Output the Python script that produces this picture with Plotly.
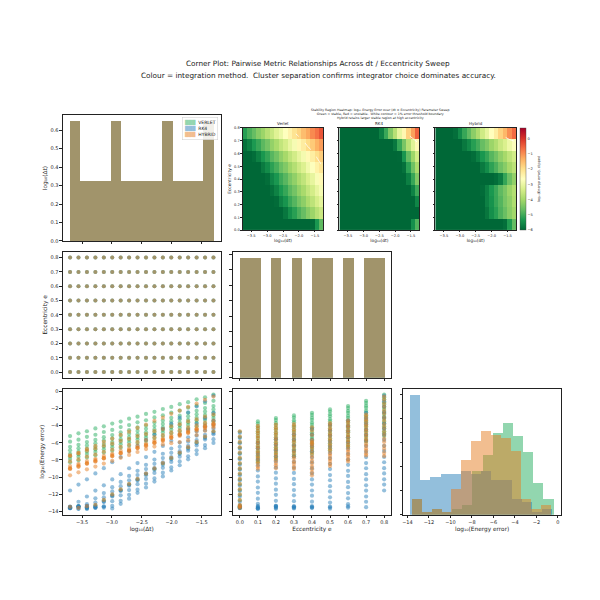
import numpy as np
import plotly.graph_objects as go

# ---------------- data ----------------
log_dt = [-3.700, -3.559, -3.418, -3.276, -3.135, -2.994, -2.853, -2.712, -2.571,
          -2.429, -2.288, -2.147, -2.006, -1.865, -1.724, -1.582, -1.441, -1.300]
ecc = [0.0, 0.1, 0.2, 0.3, 0.4, 0.5, 0.6, 0.7, 0.8]

# log10(energy error); rows = eccentricity, columns = log10(dt)
err_verlet = [
    [-13.52, -13.41, -13.58, -13.30, -12.71, -12.08, -11.49, -10.86, -10.27, -9.64, -9.05, -8.43, -7.82, -7.21, -6.58, -5.96, -5.34, -4.72],
    [-8.28, -8.05, -7.71, -7.47, -7.15, -6.92, -6.58, -6.35, -6.02, -5.79, -5.46, -5.21, -4.89, -4.65, -4.33, -4.08, -3.76, -3.52],
    [-7.88, -7.64, -7.31, -7.07, -6.75, -6.51, -6.18, -5.94, -5.62, -5.38, -5.05, -4.81, -4.49, -4.25, -3.92, -3.68, -3.36, -3.12],
    [-7.58, -7.34, -7.01, -6.77, -6.45, -6.21, -5.88, -5.64, -5.32, -5.08, -4.75, -4.51, -4.19, -3.95, -3.62, -3.38, -3.06, -2.82],
    [-7.28, -7.04, -6.71, -6.47, -6.15, -5.91, -5.58, -5.34, -5.02, -4.78, -4.45, -4.21, -3.89, -3.65, -3.32, -3.08, -2.76, -2.52],
    [-6.88, -6.64, -6.31, -6.07, -5.75, -5.51, -5.18, -4.94, -4.62, -4.38, -4.05, -3.81, -3.49, -3.25, -2.92, -2.68, -2.36, -2.12],
    [-6.48, -6.24, -5.91, -5.67, -5.35, -5.11, -4.78, -4.54, -4.22, -3.98, -3.65, -3.41, -3.09, -2.85, -2.52, -2.28, -1.96, -1.72],
    [-5.88, -5.64, -5.31, -5.07, -4.75, -4.51, -4.18, -3.94, -3.62, -3.38, -3.05, -2.81, -2.49, -2.25, -1.92, -1.68, -1.36, -1.12],
    [-5.22, -4.90, -4.66, -4.33, -4.09, -3.77, -3.53, -3.20, -2.96, -2.64, -2.40, -2.07, -1.83, -1.51, -1.27, -0.94, -0.70, -0.38],
]
err_rk4 = [
    [-13.63, -13.48, -13.36, -13.55, -12.88, -12.25, -11.62, -11.01, -10.40, -9.78, -9.14, -8.55, -7.93, -7.30, -6.69, -6.07, -5.45, -4.85],
    [-13.62, -13.45, -13.71, -13.38, -13.55, -13.66, -13.12, -12.51, -11.83, -11.21, -10.52, -9.92, -9.23, -8.62, -7.93, -7.32, -6.63, -6.02],
    [-13.48, -13.70, -13.34, -13.59, -13.44, -13.36, -12.76, -12.07, -11.47, -10.77, -10.16, -9.48, -8.87, -8.18, -7.57, -6.88, -6.27, -5.58],
    [-13.57, -13.42, -13.65, -13.50, -13.41, -12.81, -12.12, -11.51, -10.83, -10.21, -9.52, -8.92, -8.23, -7.62, -6.93, -6.32, -5.63, -5.02],
    [-13.61, -13.39, -13.53, -13.47, -12.86, -12.17, -11.56, -10.87, -10.27, -9.57, -8.96, -8.28, -7.67, -6.98, -6.37, -5.68, -5.07, -4.38],
    [-13.44, -13.68, -13.52, -12.97, -12.36, -11.67, -11.06, -10.37, -9.77, -9.07, -8.46, -7.78, -7.17, -6.48, -5.87, -5.18, -4.57, -3.92],
    [-13.55, -13.40, -13.16, -12.47, -11.86, -11.17, -10.56, -9.87, -9.27, -8.57, -7.96, -7.28, -6.67, -5.98, -5.37, -4.68, -4.07, -3.42],
    [-13.51, -12.87, -12.26, -11.57, -10.96, -10.27, -9.66, -8.97, -8.37, -7.67, -7.06, -6.38, -5.77, -5.08, -4.47, -3.78, -3.17, -2.52],
    [-11.56, -10.87, -10.26, -9.57, -8.96, -8.27, -7.66, -6.97, -6.37, -5.67, -5.06, -4.38, -3.77, -3.08, -2.47, -1.78, -1.17, -0.52],
]
err_hybrid = [
    [-13.46, -13.57, -13.39, -13.22, -12.66, -12.02, -11.43, -10.80, -10.21, -9.59, -8.99, -8.37, -7.76, -7.15, -6.52, -5.90, -5.28, -4.66],
    [-9.02, -8.77, -8.43, -8.18, -7.83, -7.58, -7.24, -6.99, -6.65, -6.40, -6.05, -5.80, -5.46, -5.21, -4.87, -4.62, -4.28, -4.03],
    [-8.96, -8.62, -8.37, -8.03, -7.77, -7.44, -7.18, -6.85, -6.59, -6.25, -5.99, -5.66, -5.40, -5.07, -4.81, -4.47, -4.22, -3.88],
    [-9.06, -8.79, -8.44, -8.17, -7.82, -7.55, -7.20, -6.93, -6.58, -6.30, -5.95, -5.68, -5.33, -5.06, -4.71, -4.44, -4.09, -3.82],
    [-9.80, -9.45, -9.10, -8.78, -8.43, -8.10, -7.76, -7.42, -7.08, -6.74, -6.45, -6.20, -6.05, -5.92, -5.70, -5.10, -4.60, -4.20],
    [-8.72, -8.46, -8.13, -7.87, -7.53, -7.28, -6.94, -6.69, -6.35, -6.09, -5.75, -5.50, -5.16, -4.91, -4.57, -4.31, -3.98, -3.72],
    [-8.18, -7.94, -7.61, -7.37, -7.05, -6.81, -6.48, -6.24, -5.92, -5.68, -5.35, -5.11, -4.79, -4.55, -4.22, -3.98, -3.66, -3.42],
    [-7.48, -7.24, -6.91, -6.67, -6.35, -6.11, -5.78, -5.54, -5.22, -4.98, -4.65, -4.41, -4.09, -3.85, -3.52, -3.28, -2.96, -2.72],
    [-7.54, -7.17, -6.72, -6.35, -5.90, -5.53, -5.08, -4.71, -4.27, -3.89, -3.45, -3.08, -2.63, -2.26, -1.81, -1.44, -0.99, -0.62],
]

methods = ["VERLET", "RK4", "HYBRID"]
panel_names = ["Verlet", "RK4", "Hybrid"]
errs = {"VERLET": err_verlet, "RK4": err_rk4, "HYBRID": err_hybrid}
colors = {"VERLET": "#27ae60", "RK4": "#2980b9", "HYBRID": "#e67e22"}
legend_rgba = {"VERLET": "rgba(39,174,96,0.5)", "RK4": "rgba(41,128,185,0.5)", "HYBRID": "rgba(230,126,34,0.5)"}

# ---------------- helpers ----------------
FONT = "DejaVu Sans"
W = H = 600


def dx(a, b):
    return [a / W, b / W]


def dy(top, bottom):
    return [1 - bottom / H, 1 - top / H]


C1, C2, C3 = dx(62, 220), dx(232, 391), dx(403, 561)
R1, R2, R3 = dy(114, 241), dy(252, 379), dy(390, 517)


def axis(domain, anchor, labels=True, title=None, size=5, **kw):
    d = dict(domain=domain, anchor=anchor, showline=True, linecolor="#222", linewidth=0.8,
             mirror=True, ticks="outside", ticklen=2.5, tickwidth=0.6, tickcolor="#222",
             showgrid=False, zeroline=False, showticklabels=labels,
             tickfont=dict(family=FONT, size=size, color="#222"))
    if title:
        d["title"] = dict(text=title, font=dict(family=FONT, size=size + 0.8, color="#222"), standoff=2)
    d.update(kw)
    return d


def hist_trace(vals, nbins, color, xa, ya, name):
    dens, edges = np.histogram(vals, bins=nbins, density=True)
    centers = 0.5 * (edges[:-1] + edges[1:])
    return go.Bar(x=centers, y=dens, width=np.diff(edges), opacity=0.5,
                  marker=dict(color=color, line=dict(width=0)), xaxis=xa, yaxis=ya,
                  name=name, showlegend=False, hoverinfo="skip"), dens.max()


dt_grid, e_grid = np.meshgrid(np.array(log_dt), np.array(ecc))
dt_flat = dt_grid.ravel()
e_flat = e_grid.ravel()

fig = go.Figure()

# --- top-left histogram of log dt ---
for m in methods:
    tr, _ = hist_trace(dt_flat, 14, colors[m], "x", "y", m)
    fig.add_trace(tr)

# --- middle-left scatter log dt vs e ---
for m in methods:
    fig.add_trace(go.Scatter(x=dt_flat, y=e_flat, mode="markers", xaxis="x2", yaxis="y2",
                             marker=dict(size=4, color=colors[m], opacity=0.5, line=dict(width=0)),
                             showlegend=False, hoverinfo="skip"))

# --- middle-center histogram of e ---
for m in methods:
    tr, _ = hist_trace(e_flat, 14, colors[m], "x3", "y3", m)
    fig.add_trace(tr)

# --- bottom-left scatter log dt vs err ---
for m in methods:
    err = np.array(errs[m]).ravel()
    fig.add_trace(go.Scatter(x=dt_flat, y=err, mode="markers", xaxis="x4", yaxis="y4",
                             marker=dict(size=4.2, color=colors[m], opacity=0.5, line=dict(width=0)),
                             showlegend=False, hoverinfo="skip"))

# --- bottom-center scatter e vs err ---
for m in methods:
    err = np.array(errs[m]).ravel()
    fig.add_trace(go.Scatter(x=e_flat, y=err, mode="markers", xaxis="x5", yaxis="y5",
                             marker=dict(size=4.2, color=colors[m], opacity=0.5, line=dict(width=0)),
                             showlegend=False, hoverinfo="skip"))

# --- bottom-right histogram of err ---
hmax = 0
for m in methods:
    err = np.array(errs[m]).ravel()
    tr, mx = hist_trace(err, 14, colors[m], "x6", "y6", m)
    hmax = max(hmax, mx)
    fig.add_trace(tr)

# --- stability heatmaps (inset) ---
e_edges = np.linspace(ecc[0], ecc[-1], len(ecc) + 1)
e_centers = 0.5 * (e_edges[:-1] + e_edges[1:])
HMX = [dx(242, 323), dx(339, 419), dx(435, 516)]
HMY = dy(127, 230)
for k, m in enumerate(methods):
    xa, ya = "x%d" % (7 + k), "y%d" % (7 + k)
    fig.add_trace(go.Heatmap(
        z=errs[m], x=log_dt, y=e_edges, colorscale="RdYlGn", reversescale=True,
        zmin=-6, zmax=0.7, xaxis=xa, yaxis=ya, showscale=(m == "HYBRID"), hoverinfo="skip",
        colorbar=dict(x=520 / W, xanchor="left", y=1 - 178.5 / H, yanchor="middle",
                      len=103 / H, lenmode="fraction", thickness=6, outlinewidth=0.4,
                      xpad=0, ypad=0,
                      tickvals=[-6, -5, -4, -3, -2, -1, 0], ticklen=1.5, tickwidth=0.4,
                      tickfont=dict(family=FONT, size=3.6, color="#222"),
                      title=dict(text="log₁₀(Energy error), clipped", side="right",
                                 font=dict(family=FONT, size=3.4, color="#222")))))
    fig.add_trace(go.Contour(
        z=errs[m], x=log_dt, y=e_centers, xaxis=xa, yaxis=ya, showscale=False, showlegend=False,
        contours=dict(start=-2, end=-2, size=1, coloring="none"),
        line=dict(color="white", dash="dash", width=0.8), hoverinfo="skip"))

# ---------------- layout ----------------
err_lo, err_hi = -14.38, 0.29
layout = dict(
    width=W, height=H, margin=dict(l=0, r=0, t=0, b=0), showlegend=False,
    paper_bgcolor="white", plot_bgcolor="white", barmode="overlay", bargap=0,
    font=dict(family=FONT, color="#222"),
    xaxis=axis(C1, "y", labels=False, range=[-3.82, -1.18], tickvals=[-3.5, -3.0, -2.5, -2.0, -1.5]),
    yaxis=axis(R1, "x", title="log₁₀(Δt)", range=[0, 0.682], tickvals=[0, .1, .2, .3, .4, .5, .6], tickformat=".1f"),
    xaxis2=axis(C1, "y2", labels=False, range=[-3.82, -1.18], tickvals=[-3.5, -3.0, -2.5, -2.0, -1.5]),
    yaxis2=axis(R2, "x2", title="Eccentricity e", range=[-0.04, 0.84], tickvals=ecc, tickformat=".1f"),
    xaxis3=axis(C2, "y3", labels=False, range=[-0.04, 0.84], tickvals=ecc),
    yaxis3=axis(R2, "x3", labels=False, range=[0, 2.04], dtick=0.25, tick0=0),
    xaxis4=axis(C1, "y4", title="log₁₀(Δt)", range=[-3.82, -1.18], tickvals=[-3.5, -3.0, -2.5, -2.0, -1.5], tickformat=".1f"),
    yaxis4=axis(R3, "x4", title="log₁₀(Energy error)", range=[err_lo, err_hi], dtick=2, tick0=0),
    xaxis5=axis(C2, "y5", title="Eccentricity e", range=[-0.04, 0.84], tickvals=ecc, tickformat=".1f"),
    yaxis5=axis(R3, "x5", labels=False, range=[err_lo, err_hi], dtick=2, tick0=0),
    xaxis6=axis(C3, "y6", title="log₁₀(Energy error)", range=[err_lo, err_hi], dtick=2, tick0=0),
    yaxis6=axis(R3, "x6", labels=False, range=[0, hmax * 1.05], dtick=0.05, tick0=0),
)
for k in range(3):
    n = 7 + k
    layout["xaxis%d" % n] = axis(HMX[k], "y%d" % n, title="log₁₀(dt)", size=3.6,
                                  tickvals=[-3.5, -3.0, -2.5, -2.0, -1.5], tickformat=".1f",
                                  linewidth=0.4, ticklen=1.5, tickwidth=0.4)
    layout["yaxis%d" % n] = axis(HMY, "x%d" % n, labels=(k == 0), size=3.6,
                                  title=("Eccentricity e" if k == 0 else None),
                                  range=[0, 0.8], tickvals=ecc, tickformat=".1f",
                                  linewidth=0.4, ticklen=1.5, tickwidth=0.4)
fig.update_layout(**layout)

legend_text = "<br>".join(
    "<span style='color:%s'>███</span>  %s" % (legend_rgba[m], m) for m in methods)

annotations = [
    dict(text="Corner Plot: Pairwise Metric Relationships Across dt / Eccentricity Sweep",
         x=318 / W, y=1 - 62 / H, xref="paper", yref="paper", xanchor="center", yanchor="middle",
         showarrow=False, font=dict(family=FONT, size=7.3, color="#222")),
    dict(text="Colour = integration method.  Cluster separation confirms integrator choice dominates accuracy.",
         x=318 / W, y=1 - 74 / H, xref="paper", yref="paper", xanchor="center", yanchor="middle",
         showarrow=False, font=dict(family=FONT, size=7.3, color="#222")),
    dict(text="Stability Region Heatmap: log₁₀ Energy Error over (dt × Eccentricity) Parameter Sweep<br>"
              "Green = stable, Red = unstable.  White contour = 1% error threshold boundary<br>"
              "Hybrid retains larger stable region at high eccentricity",
         x=380 / W, y=1 - 113 / H, xref="paper", yref="paper", xanchor="center", yanchor="middle",
         showarrow=False, font=dict(family=FONT, size=3.2, color="#222")),
    dict(text=legend_text, x=217 / W, y=1 - 116 / H, xref="paper", yref="paper",
         xanchor="right", yanchor="top", align="left", showarrow=False,
         bgcolor="rgba(255,255,255,0.85)", bordercolor="#cccccc", borderwidth=0.5, borderpad=1.5,
         font=dict(family=FONT, size=4.5, color="#222")),
]
for k, name in enumerate(panel_names):
    annotations.append(dict(text=name, x=(HMX[k][0] + HMX[k][1]) / 2, y=HMY[1], xref="paper", yref="paper",
                            xanchor="center", yanchor="bottom", showarrow=False,
                            font=dict(family=FONT, size=4, color="#222")))
fig.update_layout(annotations=annotations)

fig.write_html("out.html", config={"displayModeBar": False},
               post_script="document.body.style.margin='0px';document.body.style.overflow='hidden';")
